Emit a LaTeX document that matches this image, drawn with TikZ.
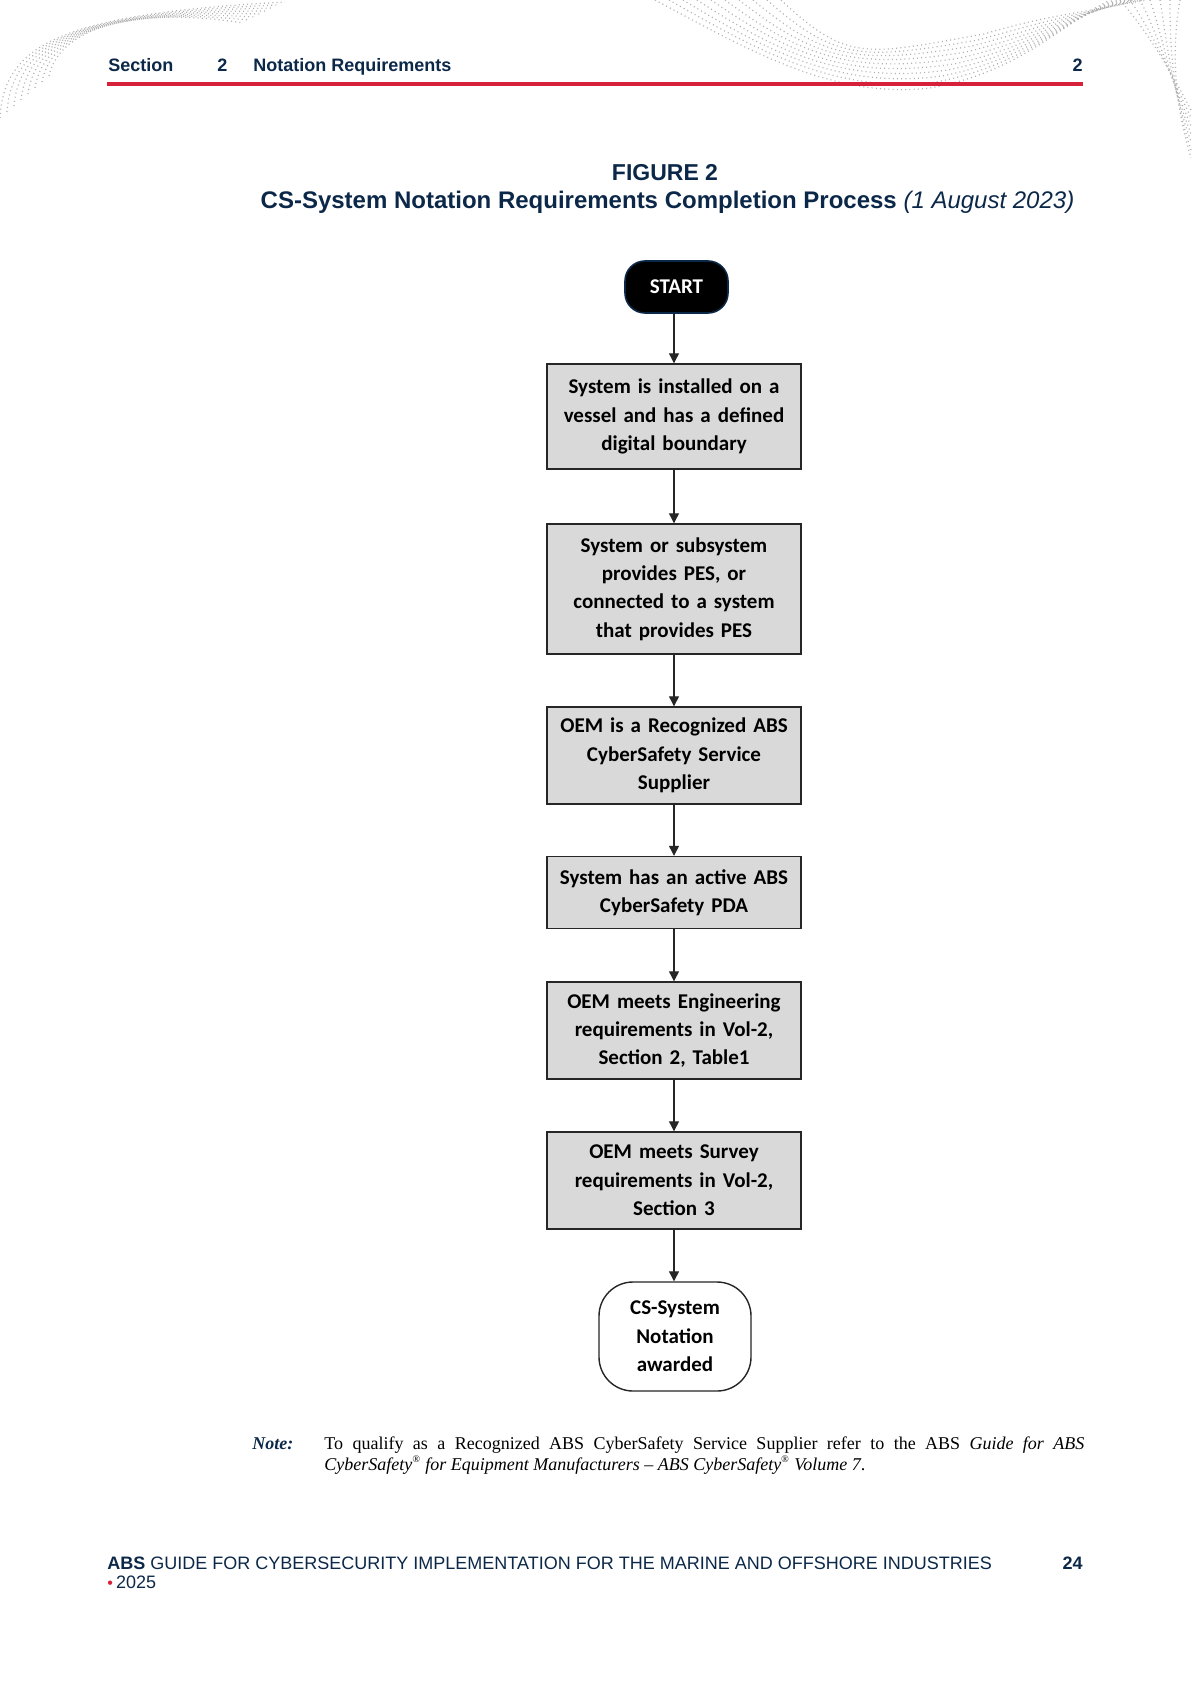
\documentclass[tikz,border=0pt]{standalone}
\usepackage{fontspec}
\setmainfont{Liberation Serif}
\setsansfont{Liberation Sans}
\newfontfamily\boxfont{Carlito}
\newfontfamily\arialfont{Liberation Sans}
\usetikzlibrary{arrows.meta}
\definecolor{absnavy}{HTML}{0C2849}
\definecolor{absred}{HTML}{D7203A}
\definecolor{boxgray}{HTML}{D9D9D9}
\definecolor{dotgray}{HTML}{B0B0B0}
\begin{document}
\begin{tikzpicture}[x=0.5pt,y=-0.5pt,
  stepbox/.style={draw=black!85, line width=0.7pt, fill=boxgray, minimum width=127pt,
    inner sep=0pt, text width=124pt, align=center,
    font=\boxfont\bfseries\fontsize{10.5}{14.2}\selectfont},
  termstart/.style={draw=absnavy, line width=0.8pt, fill=black, text=white, rounded corners=10pt,
    minimum width=51.5pt, minimum height=26pt, inner sep=0pt,
    font=\boxfont\bfseries\fontsize{10.5}{14.2}\selectfont},
  termend/.style={draw=black!85, line width=0.7pt, fill=white, rounded corners=17pt,
    minimum width=76pt, minimum height=54.5pt, inner sep=0pt, align=center,
    font=\boxfont\bfseries\fontsize{10.5}{14.2}\selectfont},
  arr/.style={draw=black!85, line width=0.6pt, -{Triangle[length=5pt,width=5pt]}},
  hdr/.style={font=\arialfont\bfseries\fontsize{9}{11}\selectfont, text=absnavy, inner sep=0pt},
  deco/.style={draw=dotgray, line width=0.6pt, dash pattern=on 0.5pt off 1.6pt}
  ]
\useasboundingbox (0,0) rectangle (1191,1684);
\fill[white] (0,0) rectangle (1191,1684);

% decorative dotted waves
\foreach \k in {0,...,7}{
  \draw[deco] (\k*7, 118-\k*6) .. controls (4+\k*8, 45-\k*3) and (60+\k*12, 14-\k) .. (285-\k*6, 2+\k*3);
}
\foreach \k in {0,...,9}{
  \draw[deco] (655+\k*14, 0) .. controls (740+\k*12, 45+\k*2) and (830+\k*4, 100-\k*5) .. (930+\k*6, 88-\k*6)
     .. controls (1020+\k*2, 72-\k*6) and (1060, 25-\k) .. (1110+\k*4, 0);
}
\foreach \k in {0,...,6}{
  \draw[deco] (1120+\k*10, 0) .. controls (1150+\k*4, 35) and (1170, 70+\k*3) .. (1191, 110+\k*8);
}

% header
\node[hdr, anchor=base west] (hs) at (108,72) {Section};
\node[hdr, anchor=base west] (hn) at (217,72) {2};
\node[hdr, anchor=base west] (ht) at (253,72) {Notation Requirements};
\node[hdr, anchor=base east] (hp) at (1083,72) {2};
\coordinate (rl1) at (107,84);
\coordinate (rl2) at (1083,84);
\draw[absred, line width=2pt] (rl1) -- (rl2);

% title
\node[font=\arialfont\bfseries\fontsize{11.5}{14}\selectfont, text=absnavy, inner sep=0pt, anchor=base] (fig) at (665,181) {FIGURE 2};
\node[font=\arialfont\fontsize{12}{14}\selectfont, text=absnavy, inner sep=0pt, anchor=base] (ttl) at (667.5,209)
  {\textbf{CS-System Notation Requirements Completion Process} \textit{(1 August 2023)}};

% flowchart
\node[termstart] (start) at (676.5,287) {START};
\node[stepbox, minimum height=52.5pt] (b1) at (674,416.5) {System is installed on a\\vessel and has a defined\\digital boundary};
\node[stepbox, minimum height=65pt] (b2) at (674,589) {System or subsystem\\provides PES, or\\connected to a system\\that provides PES};
\node[stepbox, minimum height=48.5pt] (b3) at (674,755.5) {OEM is a Recognized ABS\\CyberSafety Service\\Supplier};
\node[stepbox, minimum height=36pt] (b4) at (674,892.5) {System has an active ABS\\CyberSafety PDA};
\node[stepbox, minimum height=48.5pt] (b5) at (674,1030.5) {OEM meets Engineering\\requirements in Vol-2,\\Section 2, Table1};
\node[stepbox, minimum height=48.5pt] (b6) at (674,1180.5) {OEM meets Survey\\requirements in Vol-2,\\Section 3};
\node[termend] (end) at (675,1336.5) {CS-System\\Notation\\awarded};

\draw[arr] (start.south -| b1.north) -- (b1.north);
\draw[arr] (b1) -- (b2);
\draw[arr] (b2) -- (b3);
\draw[arr] (b3) -- (b4);
\draw[arr] (b4) -- (b5);
\draw[arr] (b5) -- (b6);
\draw[arr] (b6.south) -- (b6.south |- end.north);

% note
\node[font=\fontsize{9}{10.5}\selectfont, text=absnavy, inner sep=0pt, anchor=base west] (nl) at (252,1449) {\textbf{\textit{Note:}}};
\node[font=\fontsize{9}{10.5}\selectfont, inner sep=0pt, anchor=base west] (n1) at (324,1449)
  {\makebox[380pt][s]{To qualify as a Recognized ABS CyberSafety Service Supplier refer to the ABS \textit{Guide for ABS}}};
\node[font=\fontsize{9}{10.5}\selectfont, inner sep=0pt, anchor=base west] (n2) at (324,1470)
  {\textit{CyberSafety\textsuperscript{\tiny\textregistered} for Equipment Manufacturers -- ABS CyberSafety\textsuperscript{\tiny\textregistered} Volume 7}.};

% footer
\node[font=\arialfont\fontsize{9}{11}\selectfont, text=absnavy, inner sep=0pt, anchor=base west] (f1) at (107,1569.5)
  {\textbf{ABS} GUIDE FOR CYBERSECURITY IMPLEMENTATION FOR THE MARINE AND OFFSHORE INDUSTRIES};
\node[font=\arialfont\fontsize{9}{11}\selectfont, text=absnavy, inner sep=0pt, anchor=base west] (f2) at (107,1588.5)
  {\textcolor{absred}{\footnotesize\textbullet}\,2025};
\node[font=\arialfont\bfseries\fontsize{9}{11}\selectfont, text=absnavy, inner sep=0pt, anchor=base east] (pg) at (1083,1569.5) {24};
\end{tikzpicture}
\end{document}
